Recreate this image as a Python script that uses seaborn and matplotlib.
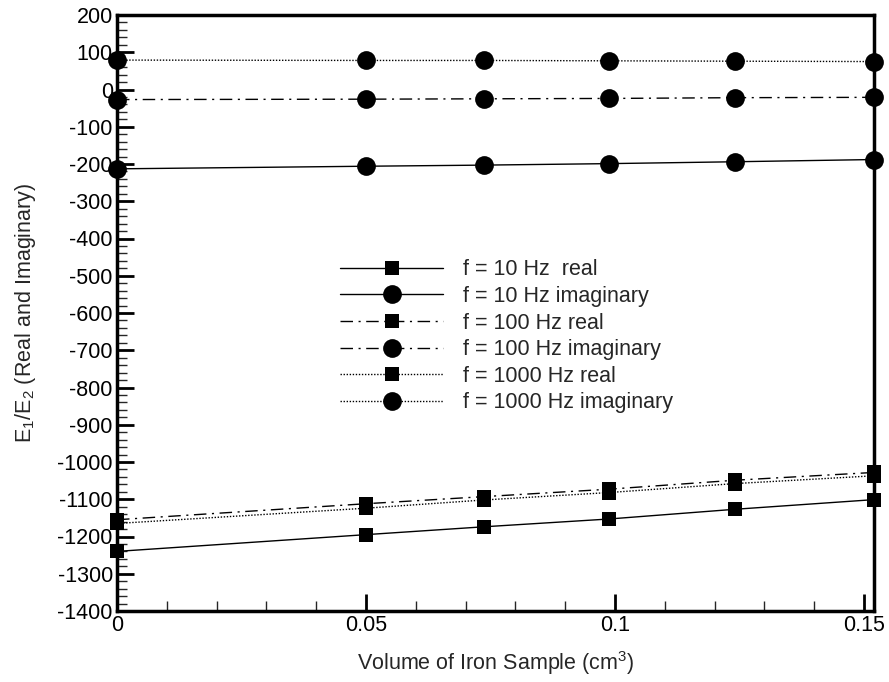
import matplotlib
matplotlib.use("Agg")
import matplotlib.pyplot as plt
import seaborn as sns
import numpy as np

# ---- data ----
volume = [0.0, 0.05, 0.0736, 0.0988, 0.124, 0.152]
real_10 = [-1240, -1195, -1174, -1153, -1127, -1101]
imag_10 = [-213, -206, -203, -199, -194, -188]
real_100 = [-1155, -1112, -1093, -1073, -1049, -1028]
imag_100 = [-27, -26, -25, -24, -22, -21]
real_1000 = [-1165, -1124, -1102, -1082, -1058, -1037]
imag_1000 = [79, 78, 78, 77, 76, 75]
labels = ["f = 10 Hz  real", "f = 10 Hz imaginary", "f = 100 Hz real",
          "f = 100 Hz imaginary", "f = 1000 Hz real", "f = 1000 Hz imaginary"]

sns.set_style("ticks")
plt.rcParams["font.family"] = ["Liberation Sans", "DejaVu Sans"]
plt.rcParams["mathtext.default"] = "regular"
plt.rcParams["axes.unicode_minus"] = False

FS = 15.5
fig = plt.figure(figsize=(8.89, 6.82), dpi=100)
L, R, T, B = 117, 874, 15, 611
ax = fig.add_axes([L/889, 1-B/682, (R-L)/889, (B-T)/682])

dashdot = (0, (9, 4, 1.5, 4))
dotted = (0, (1, 1.2))
series = [
    (real_10, "s", "-", 9.5),
    (imag_10, "o", "-", 13.5),
    (real_100, "s", dashdot, 9.5),
    (imag_100, "o", dashdot, 13.5),
    (real_1000, "s", dotted, 9.5),
    (imag_1000, "o", dotted, 13.5),
]
for (vals, mk, ls, ms), lab in zip(series, labels):
    sns.lineplot(x=volume, y=vals, ax=ax, color="black", marker=mk, markersize=ms,
                 markeredgewidth=0, linewidth=1.0, linestyle=ls, label=lab,
                 estimator=None, sort=False, clip_on=False)

ax.set_xlim(0, 0.152)
ax.set_ylim(-1400, 200)
ax.set_xticks([0, 0.05, 0.1, 0.15])
ax.set_xticklabels(["0", "0.05", "0.1", "0.15"])
ax.set_yticks(np.arange(-1400, 201, 100))
ax.set_xticks(np.arange(0, 0.1521, 0.01), minor=True)
ax.set_yticks(np.arange(-1400, 201, 20), minor=True)
ax.tick_params(axis="both", which="major", direction="in", length=12, width=2,
               labelsize=FS, colors="black", pad=3)
ax.tick_params(axis="both", which="minor", direction="in", length=7, width=1)
ax.tick_params(top=False, right=False, which="both")
for sp in ax.spines.values():
    sp.set_visible(True)
    sp.set_linewidth(2.5)
    sp.set_color("black")

ax.set_xlabel("Volume of Iron Sample (cm$^3$)", fontsize=FS, labelpad=9)
ax.set_ylabel("E$_1$/E$_2$ (Real and Imaginary)", fontsize=FS, labelpad=14)

leg = ax.legend(loc="upper left", bbox_to_anchor=(0.2946, 0.59), frameon=False,
                fontsize=FS, handlelength=4.8, handletextpad=0.9,
                labelspacing=0.26, borderpad=0, borderaxespad=0)

fig.savefig("out.png", dpi=100, facecolor="white")
